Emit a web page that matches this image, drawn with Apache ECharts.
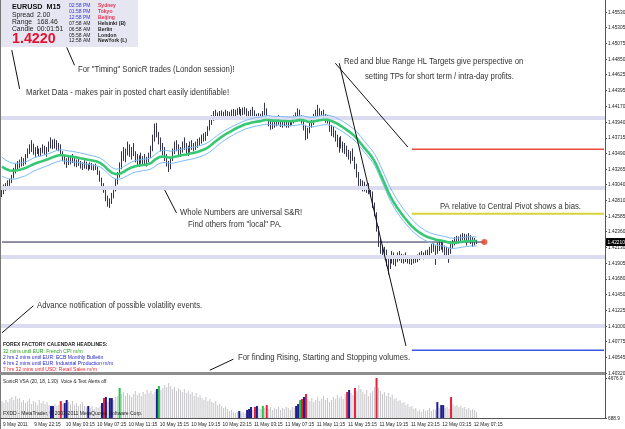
<!DOCTYPE html>
<html>
<head>
<meta charset="utf-8">
<script src="https://cdn.jsdelivr.net/npm/echarts@6/dist/echarts.min.js"></script>
<style>
  html, body { margin: 0; padding: 0; background: #fff; }
  #chart { width: 625px; height: 429px; }
</style>
</head>
<body>
<div id="chart"></div>
<script>
// EURUSD M15 bars, prices kept in pips above 1.4000 (e.g. 392 -> 1.4392)
const highs = [
  300,304,306,310,312,318,328,334,338,340, 344,342,348,356,362,368,363,358,360,356,
  357,362,360,358,366,372,369,370,368,364, 362,352,346,342,344,346,348,342,340,343,
  338,336,339,337,334,336,335,333,334,330, 324,314,306,298,288,284,292,302,312,322,
  336,352,358,356,366,362,358,364,352,348, 346,350,345,348,344,350,360,376,392,393,
  380,372,364,358,348,338,344,356,366,368, 362,358,366,372,364,360,366,368,364,366,
  370,372,376,378,380,388,398,404,410,412, 408,410,411,409,412,410,409,412,413,412,
  414,416,413,415,416,414,410,412,416,411, 406,407,406,410,422,414,402,396,394,398,
  402,404,400,398,401,398,396,400,401,404, 408,414,412,404,398,390,386,394,400,406,
  412,419,414,410,412,406,404,396,390,388, 382,376,372,374,366,364,360,354,352,356,
  344,334,322,312,310,308,304,306,298,294, 278,264,244,226,216,214,210,198,200,208,
  206,202,206,208,204,203,206,200,200,198, 201,202,203,206,208,206,209,210,214,218,
  219,216,220,222,224,220,216,214,212,218, 224,228,230,229,232,234,233,232,234,231,
  228,227,224
];
const lows = [
  286,290,295,296,302,306,313,320,326,328, 330,331,333,342,348,351,347,344,348,344,
  345,349,347,344,351,356,355,356,354,352, 348,338,333,328,332,333,335,330,329,331,
  327,325,327,326,324,326,325,324,325,318, 308,298,292,280,272,270,276,284,294,304,
  314,326,338,336,346,344,340,345,336,332, 330,334,331,333,330,336,342,352,366,372,
  362,352,346,338,330,322,326,338,348,352, 346,344,350,354,346,345,350,354,352,354,
  357,360,363,366,367,374,382,390,396,400, 398,399,401,400,402,401,400,402,403,402,
  404,405,402,404,405,400,397,399,403,398, 397,398,397,398,404,398,388,383,384,386,
  388,390,387,386,388,386,386,388,390,392, 394,400,398,392,382,368,370,378,386,390,
  396,402,400,396,398,393,392,380,374,372, 366,358,350,356,350,348,344,340,334,338,
  326,314,302,298,294,294,292,290,286,270, 258,236,214,204,198,196,186,174,182,190,
  188,186,192,194,191,190,192,190,189,188, 190,191,192,195,197,196,198,199,202,205,
  207,188,204,208,210,206,202,200,191,204, 212,216,218,219,222,224,223,216,222,218,
  214,216,218
];
const closes = [
  292,300,298,307,309,316,325,330,333,336, 340,335,345,352,355,360,350,354,352,349,
  353,356,350,355,362,365,360,366,358,360, 351,342,336,338,335,342,338,334,336,333,
  332,330,335,329,331,333,328,330,327,321, 312,302,296,284,276,281,289,298,308,318,
  330,345,344,352,356,348,353,350,340,338, 342,337,340,335,341,346,356,372,385,376,
  366,356,350,343,334,330,340,352,360,356, 350,354,362,358,350,356,362,360,356,362,
  366,368,372,370,377,385,394,400,406,404, 403,406,405,407,408,404,406,409,410,407,
  411,408,410,412,409,404,402,408,406,401, 402,404,400,407,412,401,392,388,391,394,
  398,395,392,396,392,390,394,396,398,400, 405,410,402,396,386,374,382,390,396,402,
  408,410,404,406,401,398,395,384,380,376, 370,362,366,360,354,356,348,344,346,340,
  330,318,306,306,302,298,300,294,290,274, 262,240,222,210,206,200,190,184,196,200,
  194,198,200,200,196,198,195,194,192,195, 197,196,200,202,205,201,206,207,210,214,
  212,206,216,218,214,212,210,206,208,214, 220,224,226,225,228,230,227,226,230,222,
  224,220,221
];
const firstOpen = 295;

// tick volume per bar (SonicR VSA window)
const volumes = [
  2380,2180,2480,2280,2580,2780,2480,2880,2580,2680, 2280,2480,2180,2380,2580,2080,2380,2280,1980,2480,
  2180,2380,2080,2280,1980,1890,1890,2080,1890,1980, 2380,2080,2180,2480,2280,2080,2380,1980,2180,1890,
  2080,2280,1890,1790,1890,1690,1890,1590,1790,1690, 1890,2180,2680,2780,2280,2680,2680,2480,2780,2880,
  3680,3080,3280,2880,3180,2980,2780,3080,3380,2980, 3180,2880,3280,3080,3480,3180,3380,3080,3280,3580,
  3880,3480,3680,3980,3780,4180,3880,3580,3780,3380, 3680,3480,3280,3580,3180,3380,3080,3280,2880,3180,
  2780,2980,2680,2480,2780,2380,2580,2280,2180,2380, 1980,2080,1890,1690,1790,1590,1390,1490,1290,1190,
  1290,1390,1190,1290,1190,1490,1590,1790,1490,1790, 1890,1690,1590,1890,1690,1980,1590,1790,1490,1690,
  1590,1790,1490,1690,1590,1790,1690,1490,1790,1690, 1890,2080,2480,2580,2780,3080,2580,2380,2680,2280,
  2480,2780,2380,2580,2880,2480,2680,2280,2480,2780, 2580,2980,2680,2880,2580,3080,3280,3480,3180,2980,
  3680,3380,3980,3580,3280,3080,3480,2880,3180,3380, 3780,4676.9,3680,3380,3080,3280,2880,3180,2780,2980,
  2580,2680,2380,2480,2180,2280,1980,2080,1790,1890, 1590,1690,1390,1490,1290,1590,1390,1490,1690,1390,
  1590,1490,2280,1690,1980,1980,1690,1790,1590,2780, 2080,1890,1980,1790,1890,1690,1790,1590,1690,1490,
  1590,1490,1290
];
// VSA signal bars (bar indices)
const vsaBlue = [25, 26, 32, 33, 44, 51, 53, 55, 56, 79, 121, 125, 126, 127, 130, 150, 151, 154, 177, 222, 224, 225];
const vsaRed = [30, 52, 129, 135, 153, 155, 176, 180, 191, 229];
const vsaGreen = [60, 80, 133, 152];

const timeLabels = ['9 May 2011', '9 May 22:15', '10 May 03:15', '10 May 07:15', '10 May 11:15', '10 May 15:15',
  '10 May 19:15', '10 May 23:15', '11 May 03:15', '11 May 07:15', '11 May 11:15', '11 May 15:15',
  '11 May 19:15', '11 May 23:15', '12 May 03:15', '12 May 07:15'];
const priceTicks = ['1.45530', '1.45305', '1.45075', '1.44850', '1.44625', '1.44395', '1.44170', '1.43940',
  '1.43715', '1.43490', '1.43265', '1.43040', '1.42810', '1.42585', '1.42360', '1.42130', '1.41905',
  '1.41680', '1.41450', '1.41225', '1.41000', '1.40775', '1.40545', '1.40320'];
const volumeTicks = ['4676.9', '688.9'];

const wholeNumbers = [1.44, 1.43, 1.42, 1.41];
const rangeHigh = 1.4355;
const centralPivot = 1.4262;
const rangeLow = 1.4065;
const lastPrice = 1.4221;
const emaSeed = { high: 1.4346, low: 1.4318, close: 1.4332 };

// drawn trend lines: [barIndex, price] pairs
const trendLines = [
  [[172, 1.4479], [206, 1.4071]],
  [[170, 1.4479], [207, 1.4358]],
  [[83, 1.4296], [89, 1.4263]],
  [[33, 1.4502], [37, 1.4476]],
  [[5, 1.4498], [9, 1.4442]],
  [[0, 1.4090], [16, 1.4129]],
  [[106, 1.4036], [118, 1.4052]]
];

const sessions = [['02:58 PM', 'Sydney'], ['01:58 PM', 'Tokyo'], ['12:58 PM', 'Beijing'],
  ['07:58 AM', 'Helsinki (B)'], ['06:58 AM', 'Berlin'], ['05:58 AM', 'London'], ['12:58 AM', 'NewYork (L)']];
const headlines = ['32 mins until EUR: French CPI m/m', '2 hrs 2 mins until EUR: ECB Monthly Bulletin',
  '4 hrs 2 mins until EUR: Industrial Production m/m', '7 hrs 32 mins until USD: Retail Sales m/m'];

const N = 308;
const FONT = '"Liberation Sans", Arial, sans-serif';
const px = p => +(1.4 + p / 10000).toFixed(4);

const candles = closes.map((c, i) => [px(i ? closes[i - 1] : firstOpen), px(c), px(lows[i]), px(highs[i])]);

const ema = (vals, seed, period) => {
  const k = 2 / (period + 1);
  let e = seed;
  return vals.map(v => (e = e + k * (px(v) - e)));
};
const emaHigh = ema(highs, emaSeed.high, 34);
const emaLow = ema(lows, emaSeed.low, 34);
const emaClose = ema(closes, emaSeed.close, 34);

const cats = Array.from({ length: N }, (_, i) => String(i));

const chart = echarts.init(document.getElementById('chart'));

const txt = (x, y, text, font, fill, sx) => ({
  type: 'text', x: x, y: y, scaleX: sx || 1, silent: true, z: 50,
  style: { text: text, font: font + ' ' + FONT, fill: fill, verticalAlign: 'middle' }
});

const graphics = [
  { type: 'line', shape: { x1: 0.5, y1: 0, x2: 0.5, y2: 429 }, style: { stroke: '#777', lineWidth: 1 }, silent: true },
  { type: 'rect', shape: { x: 0, y: 372, width: 605, height: 3 }, style: { fill: '#8e8e8e' }, silent: true },
  { type: 'line', shape: { x1: 605.5, y1: 0, x2: 605.5, y2: 419 }, style: { stroke: '#555', lineWidth: 1 }, silent: true },
  // market data box
  { type: 'rect', shape: { x: 1, y: 0, width: 137, height: 47 }, style: { fill: '#e6e6f2' }, z: 40, silent: true },
  txt(12, 6.5, 'EURUSD  M15', 'bold 8px', '#111', 0.9),
  txt(12, 14.5, 'Spread', '7.5px', '#222', 0.9), txt(37, 14.5, '2.00', '7.5px', '#222', 0.9),
  txt(12, 21.5, 'Range', '7.5px', '#222', 0.9), txt(37, 21.5, '168.46', '7.5px', '#222', 0.9),
  txt(12, 28.5, 'Candle', '7.5px', '#222', 0.9), txt(37, 28.5, '00:01:51', '7.5px', '#222', 0.9),
  txt(12, 38.5, '1.4220', 'bold 15px', '#e3122e', 0.95)
];
const rowY = [5.7, 11.6, 17.5, 23.4, 29.3, 35.1, 40.8];
sessions.forEach((s, k) => {
  graphics.push(txt(69, rowY[k], s[0], '5.6px', k < 3 ? '#3434e0' : '#222', 0.9));
  graphics.push(txt(98, rowY[k], s[1], 'bold 5.6px', k < 3 ? '#e83050' : '#222', 0.9));
});
// annotations
[
  [344, 62, 'Red and blue Range HL Targets give perspective on'],
  [365, 77, 'setting TPs for short term / intra-day profits.'],
  [78, 70, 'For "Timing" SonicR trades (London session)!'],
  [26, 93, 'Market Data - makes pair in posted chart easily identifiable!'],
  [180, 213, 'Whole Numbers are universal S&R!'],
  [188, 225, 'Find others from "local" PA.'],
  [440, 207, 'PA relative to Central Pivot shows a bias.'],
  [37, 306, 'Advance notification of possible volatility events.'],
  [238, 358, 'For finding Rising, Starting and Stopping volumes.']
].forEach(a => graphics.push(txt(a[0], a[1], a[2], '9px', '#333', 0.86)));
graphics.push(txt(3, 344, 'FOREX FACTORY CALENDAR HEADLINES:', 'bold 6px', '#222', 0.84));
const hlColors = ['#1f9e1f', '#2525c8', '#2525c8', '#ea2630'];
const hlY = [351, 357.3, 363.5, 369.8];
headlines.forEach((h, k) => graphics.push(txt(3, hlY[k], h, '6px', hlColors[k], 0.84)));
graphics.push(txt(3, 381, 'SonicR VSA (20, 18, 1.30)  Voice & Text Alerts off.', '5.6px', '#222', 0.84));
graphics.push(txt(3, 413, 'FXDD - MetaTrader, \u00a9 2001-2011 MetaQuotes Software Corp.', '6px', '#222', 0.84));

const isIn = (arr, i) => arr.indexOf(i) >= 0;
const sigColor = i => isIn(vsaBlue, i) ? '#1c1c8e' : isIn(vsaRed, i) ? '#e8213b' : isIn(vsaGreen, i) ? '#23c34a' : null;

const levelLine = (price, color, width) => ({
  type: 'line', xAxisIndex: 0, yAxisIndex: 0, z: 2, silent: true, showSymbol: false,
  lineStyle: { color: color, width: width }, data: [[209, price], [N - 1, price]]
});

const series = [
  {
    type: 'line', xAxisIndex: 0, yAxisIndex: 0, data: [], z: 1, silent: true,
    markLine: {
      silent: true, symbol: 'none', label: { show: false }, animation: false,
      lineStyle: { color: '#dcdcf1', width: 4, type: 'solid' },
      data: wholeNumbers.map(v => ({ yAxis: v }))
    }
  },
  levelLine(rangeHigh, '#e84a40', 1.5),
  levelLine(centralPivot, '#d6d43a', 2),
  levelLine(rangeLow, '#3a58e6', 1.5),
  {
    type: 'line', xAxisIndex: 0, yAxisIndex: 0, z: 3, silent: true, showSymbol: false,
    lineStyle: { color: '#23234a', width: 1 },
    data: [[0, lastPrice], [246, lastPrice]]
  },
  {
    type: 'candlestick', xAxisIndex: 0, yAxisIndex: 0, z: 4, silent: true, barWidth: 1.2,
    itemStyle: { color: '#34344f', color0: '#34344f', borderColor: '#34344f', borderColor0: '#34344f', borderWidth: 1 },
    data: candles
  },
  {
    type: 'line', xAxisIndex: 0, yAxisIndex: 0, z: 5, silent: true, showSymbol: false,
    lineStyle: { color: '#7dbcf6', width: 1 }, data: emaHigh
  },
  {
    type: 'line', xAxisIndex: 0, yAxisIndex: 0, z: 5, silent: true, showSymbol: false,
    lineStyle: { color: '#7dbcf6', width: 1 }, data: emaLow
  },
  {
    type: 'line', xAxisIndex: 0, yAxisIndex: 0, z: 6, silent: true, showSymbol: false,
    lineStyle: { color: '#36c873', width: 2.6 }, data: emaClose
  },
  {
    type: 'scatter', xAxisIndex: 0, yAxisIndex: 0, z: 7, silent: true, symbolSize: 6,
    itemStyle: { color: '#e5401f' }, data: [[246, lastPrice]]
  },
  {
    type: 'bar', xAxisIndex: 1, yAxisIndex: 1, silent: true, barWidth: 1,
    itemStyle: { color: '#c6c6ca' }, data: volumes
  },
  {
    type: 'bar', xAxisIndex: 2, yAxisIndex: 1, silent: true, barWidth: 2,
    data: volumes.map((v, i) => sigColor(i) ? { value: v, itemStyle: { color: sigColor(i) } } : null)
  }
];
trendLines.forEach(t => series.push({
  type: 'line', xAxisIndex: 0, yAxisIndex: 0, z: 8, silent: true, showSymbol: false,
  lineStyle: { color: '#111', width: 1 }, data: t
}));

chart.setOption({
  animation: false,
  backgroundColor: '#fff',
  textStyle: { fontFamily: FONT },
  grid: [
    { left: 1, right: 20, top: 0, height: 373 },
    { left: 1, right: 20, top: 378, height: 40 }
  ],
  xAxis: [
    { type: 'category', gridIndex: 0, data: cats, show: false },
    {
      type: 'category', gridIndex: 1, data: cats,
      axisLine: { lineStyle: { color: '#555' } },
      axisTick: { interval: i => i % 16 === 0, alignWithLabel: true, length: 3, lineStyle: { color: '#555' } },
      axisLabel: { show: false }
    },
    { type: 'category', gridIndex: 1, data: cats, show: false }
  ],
  yAxis: [
    {
      type: 'value', gridIndex: 0, position: 'right', min: 1.4032, max: 1.45703,
      splitLine: { show: false },
      axisLine: { show: true, lineStyle: { color: '#555' } },
      axisTick: { show: true, length: 2, customValues: priceTicks.map(Number), lineStyle: { color: '#555' } },
      axisLabel: { show: false }
    },
    {
      type: 'value', gridIndex: 1, position: 'right', min: 688.9, max: 4676.9,
      splitLine: { show: false },
      axisLine: { show: true, lineStyle: { color: '#555' } },
      axisTick: { show: true, length: 2, customValues: volumeTicks.map(Number), lineStyle: { color: '#555' } },
      axisLabel: { show: false }
    }
  ],
  series: series,
  graphic: graphics
});

// axis labels placed through the axes' own scales, drawn narrow like the terminal font
const axisText = [];
priceTicks.forEach(t => {
  const y = chart.convertToPixel({ yAxisIndex: 0 }, Number(t));
  axisText.push(txt(608, y, t, '6px', '#222', 0.8));
});
volumeTicks.forEach(t => {
  const y = chart.convertToPixel({ yAxisIndex: 1 }, Number(t));
  axisText.push(txt(608, y, t, '6px', '#222', 0.8));
});
timeLabels.forEach((t, k) => {
  const x = chart.convertToPixel({ xAxisIndex: 1 }, k * 16);
  axisText.push(txt(x + 1, 424, t, '6px', '#222', 0.8));
});
const yLast = chart.convertToPixel({ yAxisIndex: 0 }, lastPrice);
axisText.push({ type: 'rect', shape: { x: 606, y: yLast - 4, width: 19, height: 8 }, style: { fill: '#000' }, z: 60, silent: true });
axisText.push(Object.assign(txt(607.5, yLast, lastPrice.toFixed(5), '6px', '#fff', 0.8), { z: 61 }));

chart.setOption({ graphic: graphics.concat(axisText) });
</script>
</body>
</html>
